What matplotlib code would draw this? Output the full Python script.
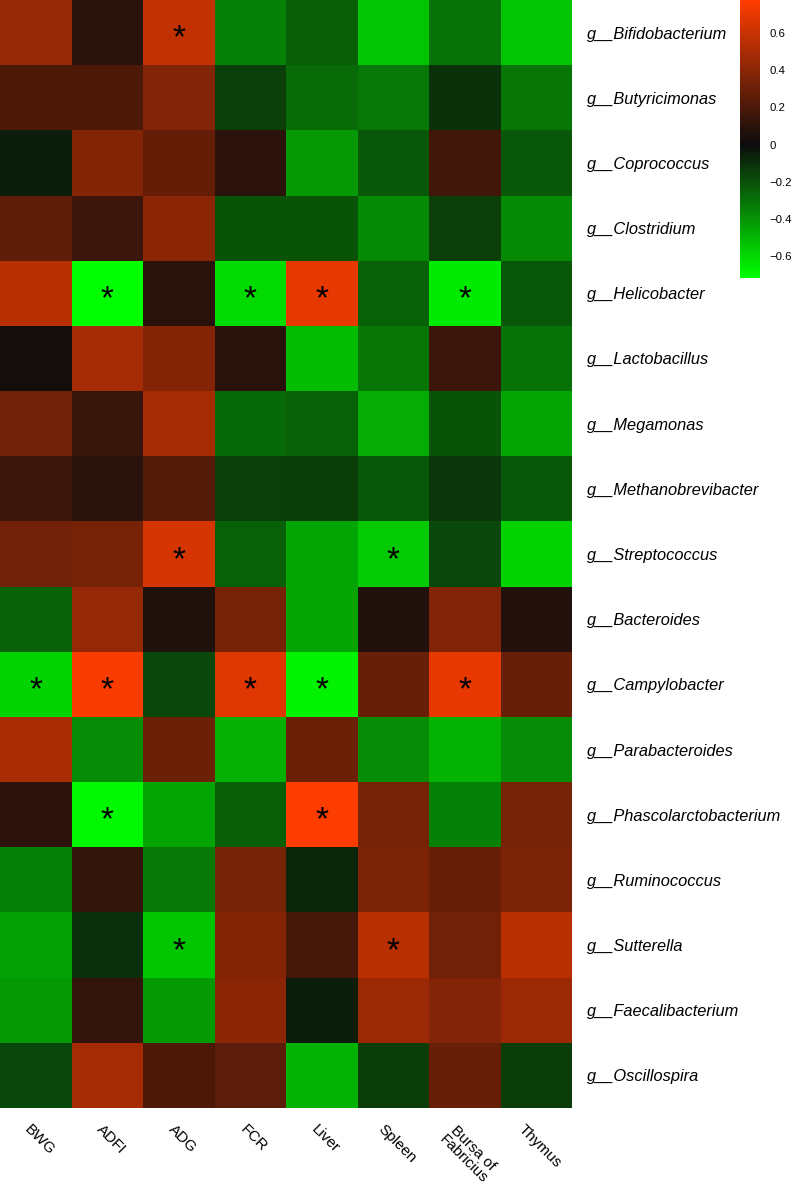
import numpy as np
import matplotlib

matplotlib.use("Agg")
import matplotlib.pyplot as plt
from matplotlib.colors import LinearSegmentedColormap, Normalize

# Correlation heatmap: gut genera vs growth / organ indices
genera = [
    "g__Bifidobacterium", "g__Butyricimonas", "g__Coprococcus", "g__Clostridium",
    "g__Helicobacter", "g__Lactobacillus", "g__Megamonas", "g__Methanobrevibacter",
    "g__Streptococcus", "g__Bacteroides", "g__Campylobacter", "g__Parabacteroides",
    "g__Phascolarctobacterium", "g__Ruminococcus", "g__Sutterella",
    "g__Faecalibacterium", "g__Oscillospira",
]
traits = ["BWG", "ADFI", "ADG", "FCR", "Liver", "Spleen", "Bursa of\nFabricius", "Thymus"]

corr = [
    [0.44, 0.09, 0.58, -0.34, -0.24, -0.54, -0.30, -0.54],
    [0.20, 0.20, 0.37, -0.15, -0.28, -0.32, -0.11, -0.31],
    [-0.05, 0.38, 0.28, 0.10, -0.42, -0.22, 0.17, -0.22],
    [0.26, 0.15, 0.40, -0.21, -0.21, -0.37, -0.15, -0.37],
    [0.55, -0.72, 0.09, -0.61, 0.70, -0.25, -0.66, -0.22],
    [0.02, 0.49, 0.38, 0.09, -0.52, -0.31, 0.15, -0.30],
    [0.32, 0.14, 0.49, -0.27, -0.25, -0.47, -0.21, -0.45],
    [0.15, 0.09, 0.23, -0.15, -0.14, -0.22, -0.12, -0.22],
    [0.32, 0.34, 0.64, -0.25, -0.45, -0.56, -0.17, -0.58],
    [-0.25, 0.44, 0.06, 0.34, -0.45, 0.06, 0.37, 0.07],
    [-0.59, 0.76, -0.17, 0.67, -0.68, 0.29, 0.70, 0.29],
    [0.50, -0.38, 0.30, -0.48, 0.30, -0.38, -0.49, -0.38],
    [0.10, -0.70, -0.45, -0.24, 0.77, 0.34, -0.34, 0.34],
    [-0.34, 0.12, -0.32, 0.34, -0.07, 0.35, 0.29, 0.35],
    [-0.44, -0.10, -0.55, 0.38, 0.18, 0.55, 0.32, 0.55],
    [-0.42, 0.12, -0.42, 0.40, -0.05, 0.46, 0.37, 0.46],
    [-0.17, 0.49, 0.20, 0.25, -0.49, -0.14, 0.29, -0.14],
]

# (row, column) of significant correlations
signif = [
    (0, 2), (4, 1), (4, 3), (4, 4), (4, 6), (8, 2), (8, 5),
    (10, 0), (10, 1), (10, 3), (10, 4), (10, 6), (12, 1), (12, 4),
    (14, 2), (14, 5),
]

cbar_ticks = [-0.6, -0.4, -0.2, 0, 0.2, 0.4, 0.6]
vmin, vmax = -0.72, 0.78

plt.rcParams["font.family"] = ["Liberation Sans", "DejaVu Sans"]

mid = -vmin / (vmax - vmin)
cmap = LinearSegmentedColormap.from_list(
    "green_black_red",
    [(0.0, (0.0, 1.0, 0.0)), (mid, (0.05, 0.05, 0.05)), (1.0, (1.0, 0.24, 0.0))],
)
norm = Normalize(vmin=vmin, vmax=vmax)

W, H = 796, 1187
fig = plt.figure(figsize=(W / 100, H / 100), dpi=100)
ax = fig.add_axes([0.0, 1 - 1108 / H, 572 / W, 1108 / H])

data = np.array(corr)
n_rows, n_cols = data.shape
ax.pcolormesh(np.arange(n_cols + 1), np.arange(n_rows + 1), data,
              cmap=cmap, norm=norm, shading="flat")
ax.set_xlim(0, n_cols)
ax.set_ylim(n_rows, 0)

for r, c in signif:
    ax.text(c + 0.5, r + 0.6, "*", ha="center", va="center",
            fontsize=24, color="black")

ax.yaxis.tick_right()
ax.set_yticks(np.arange(n_rows) + 0.5)
ax.set_yticklabels(genera, fontsize=11.8, style="italic")
ax.set_xticks(np.arange(n_cols) + 0.55)
ax.set_xticklabels(traits, fontsize=11, rotation=-45, ha="center", va="top",
                   linespacing=1.0)
ax.tick_params(axis="both", length=0)
ax.tick_params(axis="y", pad=11)
ax.tick_params(axis="x", pad=10)
for s in ax.spines.values():
    s.set_visible(False)

# colour key
cax = fig.add_axes([740 / W, 1 - 278 / H, 20 / W, 278 / H])
sm = plt.cm.ScalarMappable(norm=norm, cmap=cmap)
cb = fig.colorbar(sm, cax=cax, ticks=cbar_ticks)
cb.outline.set_visible(False)
cb.ax.set_yticklabels([f"{t:g}".replace("-", "\u2212") for t in cbar_ticks], fontsize=8.2)
cb.ax.tick_params(length=0, pad=7)

fig.savefig("out.png", dpi=100)
